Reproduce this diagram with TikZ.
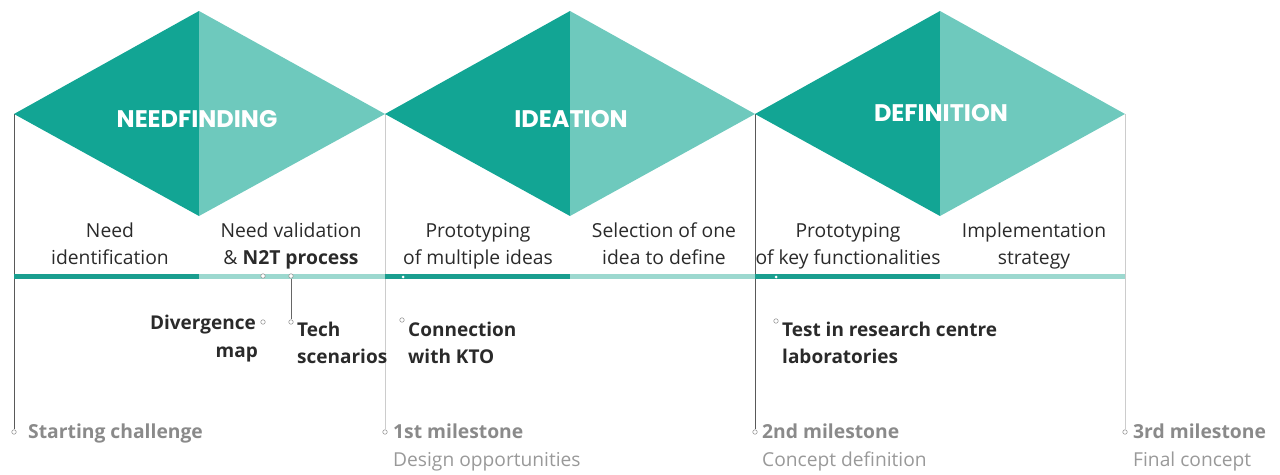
\documentclass[tikz,border=0pt]{standalone}
\usepackage{fontspec}
\setmainfont{Open Sans}
\newfontfamily\titlefont{Poppins}
\definecolor{tdark}{HTML}{12A594}
\definecolor{tlight}{HTML}{6EC9BD}
\definecolor{bdark}{HTML}{1A9E8F}
\definecolor{blight}{HTML}{9CD8CF}
\definecolor{txt}{HTML}{2A2A2A}
\definecolor{msgray}{HTML}{8A8A8A}
\definecolor{subgray}{HTML}{999999}
\tikzset{
  rowtxt/.style={anchor=base, inner sep=0pt, text=txt, font=\fontsize{19.3}{26}\selectfont},
  boldtxt/.style={inner sep=0pt, text=txt, font=\fontsize{19}{27}\selectfont\bfseries},
  mstxt/.style={anchor=base west, inner sep=0pt, text=msgray, font=\fontsize{19.3}{26}\selectfont\bfseries},
  subtxt/.style={anchor=base west, inner sep=0pt, text=subgray, font=\fontsize{19.2}{26}\selectfont},
  titletxt/.style={anchor=base, inner sep=0pt, text=white, font=\fontsize{24}{26}\titlefont\bfseries},
  dot/.style={circle, draw=gray!80, fill=white, line width=0.6pt, inner sep=0pt, minimum size=4.5pt},
  wdot/.style={circle, fill=white, inner sep=0pt, minimum size=3pt},
  vdark/.style={draw=black!65, line width=0.9pt},
  vlight/.style={draw=black!20, line width=0.9pt},
  conn/.style={draw=black!60, line width=0.9pt},
}
\begin{document}
\begin{tikzpicture}[x=1pt,y=-1pt]
\useasboundingbox (0,0) rectangle (1280,474);
% diamond tip coordinates
\coordinate (t0) at (14,114);
\coordinate (t1) at (385,114);
\coordinate (t2) at (755,114);
\coordinate (t3) at (1125,114);
% milestone dots
\node[dot] (m0) at (14,432) {};
\node[dot] (m1) at (385,432) {};
\node[dot] (m2) at (755,432) {};
\node[dot] (m3) at (1125,432) {};
% vertical lines
\draw[vdark] (t0) -- (m0);
\draw[vlight] (t1) -- (m1);
\draw[vdark] (t2) -- (m2);
\draw[vlight] (t3) -- (m3);
% diamonds
\foreach \cx/\l/\r in {199/14/385, 570/385/755, 940/755/1125}{
  \fill[tdark] (\l,114) -- (\cx,11) -- (\cx,216) -- cycle;
  \fill[tlight] (\cx,11) -- (\r,114) -- (\cx,216) -- cycle;
}
% bar
\fill[bdark] (14,273.5) rectangle (199,278.5);
\fill[blight] (199,273.5) rectangle (385,278.5);
\fill[bdark] (385,273.5) rectangle (570,278.5);
\fill[blight] (570,273.5) rectangle (755,278.5);
\fill[bdark] (755,273.5) rectangle (940,278.5);
\fill[blight] (940,273.5) rectangle (1125,278.5);
% titles
\node[titletxt] (tt1) at (197,127) {NEEDFINDING};
\node[titletxt] (tt2) at (571,127) {IDEATION};
\node[titletxt] (tt3) at (941,121) {DEFINITION};
% row texts
\node[rowtxt] (a1) at (110,237) {Need};
\node[rowtxt] (a2) at (110,264) {identification};
\node[rowtxt] (b1) at (291,237) {Need validation};
\node[rowtxt] (b2) at (291,264) {\& \textbf{N2T process}};
\node[rowtxt] (c1) at (478,237) {Prototyping};
\node[rowtxt] (c2) at (478,264) {of multiple ideas};
\node[rowtxt] (d1) at (664,237) {Selection of one};
\node[rowtxt] (d2) at (664,264) {idea to define};
\node[rowtxt] (e1) at (848,237) {Prototyping};
\node[rowtxt] (e2) at (848,264) {of key functionalities};
\node[rowtxt] (f1) at (1034,237) {Implementation};
\node[rowtxt] (f2) at (1034,264) {strategy};
% bar markers
\node[dot] (dvb) at (263,276) {};
\node[dot] (tcb) at (291,276) {};
\node[wdot] (ckb) at (403,277) {};
\node[wdot] (tsb) at (776,277) {};
% label markers
\node[dot] (dvl) at (263,322) {};
\node[dot] (tcl) at (291,322) {};
\node[dot] (ckl) at (402,320) {};
\node[dot] (tsl) at (776,321) {};
\draw[conn] (tcb) -- (tcl);
% bold labels
\node[boldtxt, anchor=base east] (dv1) at (256,329) {Divergence};
\node[boldtxt, anchor=base east] (dv2) at (258,357) {map};
\node[boldtxt, anchor=base west] (tc1) at (297,336) {Tech};
\node[boldtxt, anchor=base west] (tc2) at (297,363) {scenarios};
\node[boldtxt, anchor=base west] (ck1) at (408,336) {Connection};
\node[boldtxt, anchor=base west] (ck2) at (408,363) {with KTO};
\node[boldtxt, anchor=base west] (ts1) at (782,336) {Test in research centre};
\node[boldtxt, anchor=base west] (ts2) at (782,363) {laboratories};
% milestones
\node[mstxt] (ms0) at (28,438) {Starting challenge};
\node[mstxt] (ms1) at (393,438) {1st milestone};
\node[subtxt] (sb1) at (393,466) {Design opportunities};
\node[mstxt] (ms2) at (762,438) {2nd milestone};
\node[subtxt] (sb2) at (762,466) {Concept definition};
\node[mstxt] (ms3) at (1133,438) {3rd milestone};
\node[subtxt] (sb3) at (1133,466) {Final concept};
\end{tikzpicture}
\end{document}
